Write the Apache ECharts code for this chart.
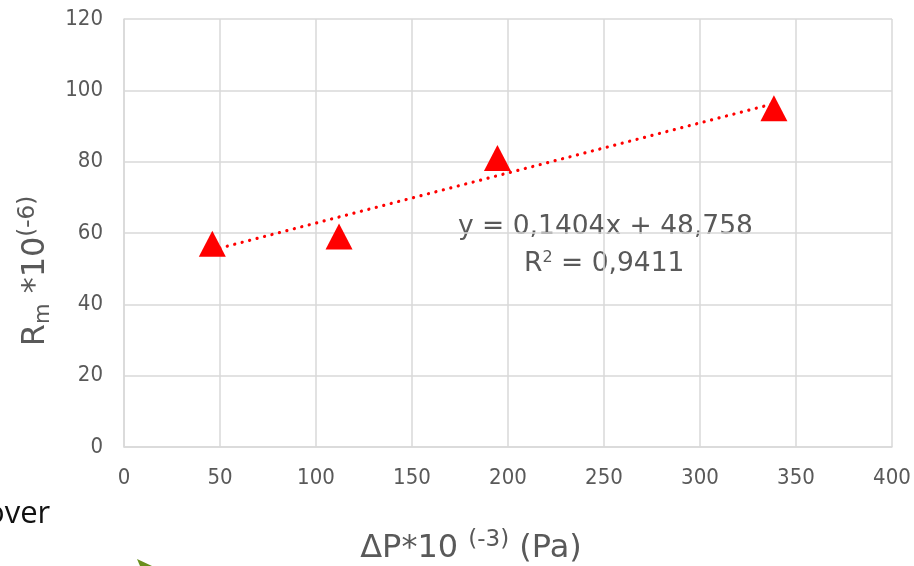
<!DOCTYPE html>
<html>
<head>
<meta charset="utf-8">
<script src="https://cdn.jsdelivr.net/npm/echarts@6/dist/echarts.min.js"></script>
<style>
  html, body { margin: 0; padding: 0; background: #fff; }
  #chart { width: 914px; height: 566px; }
</style>
</head>
<body>
<div id="chart"></div>
<script>
// ── Data ──
const deltaP = [46, 112, 194.5, 338.5];   // ΔP*10^(-3) (Pa)
const rm     = [57, 59, 81, 95];          // Rm*10^(-6)
const xTicks = [0, 50, 100, 150, 200, 250, 300, 350, 400];
const yTicks = [0, 20, 40, 60, 80, 100, 120];

// Trendline as printed on the chart
const SLOPE = 0.1404;
const INTERCEPT = 48.758;
const EQ_TEXT = 'y = 0,1404x + 48,758';
const R2_VALUE = '0,9411';

const TICK_FONT = '"DejaVu Sans Condensed", "DejaVu Sans", sans-serif';
const FONT = '"DejaVu Sans", sans-serif';
const GREY = '#595959';
const GRID = '#d9d9d9';

const xMin = Math.min(...deltaP);
const xMax = Math.max(...deltaP);
const trend = [[xMin, INTERCEPT + SLOPE * xMin], [xMax, INTERCEPT + SLOPE * xMax]];

const chart = echarts.init(document.getElementById('chart'), null, { renderer: 'canvas' });

chart.setOption({
    animation: false,
    grid: { left: 124, right: 22, top: 19, bottom: 119, outerBoundsMode: 'none' },
    xAxis: {
        type: 'value',
        min: xTicks[0],
        max: xTicks[xTicks.length - 1],
        interval: 50,
        axisLine: { show: true, lineStyle: { color: GRID, width: 1.5 } },
        axisTick: { show: false },
        axisLabel: { color: GREY, fontSize: 22, fontFamily: TICK_FONT, margin: 20 },
        splitLine: { show: true, lineStyle: { color: GRID, width: 1.5 } },
        name: '{b|ΔP*10 }{sup|(-3)}{b| (Pa)}',
        nameLocation: 'middle',
        nameGap: 82,
        nameTextStyle: {
            padding: [0, 74, 0, 0],
            rich: {
                b:   { fontSize: 32, color: GREY, fontFamily: FONT },
                sup: { fontSize: 23, color: GREY, fontFamily: FONT, padding: [0, 0, 16, 0] },
            },
        },
    },
    yAxis: {
        type: 'value',
        min: yTicks[0],
        max: yTicks[yTicks.length - 1],
        interval: 20,
        axisLine: { show: true, lineStyle: { color: GRID, width: 1.5 } },
        axisTick: { show: false },
        axisLabel: { color: GREY, fontSize: 22, fontFamily: TICK_FONT, margin: 21 },
        splitLine: { show: true, lineStyle: { color: GRID, width: 1.5 } },
        name: '{b|R}{sub|m}{b| *10}{sup|(-6)}',
        nameLocation: 'middle',
        nameGap: 68,
        nameRotate: 90,
        nameTextStyle: {
            padding: [0, 76, 0, 0],
            rich: {
                b:   { fontSize: 32, color: GREY, fontFamily: FONT },
                sub: { fontSize: 21, color: GREY, fontFamily: FONT, padding: [16, 0, 0, 0] },
                sup: { fontSize: 23, color: GREY, fontFamily: FONT, padding: [0, 0, 16, 0] },
            },
        },
    },
    series: [
        {
            type: 'line',
            data: trend,
            symbol: 'none',
            lineStyle: { color: '#ff0000', width: 3.2, type: [0.1, 7.6], cap: 'round' },
            z: 2,
        },
        {
            type: 'scatter',
            data: deltaP.map((x, i) => [x, rm[i]]),
            symbol: 'triangle',
            symbolSize: [27, 26],
            itemStyle: { color: '#ff0000', opacity: 1 },
            z: 3,
        },
    ],
    graphic: [
        {
            type: 'text', left: 458, top: 214,
            style: { text: EQ_TEXT, font: '26.5px ' + FONT, fill: GREY },
        },
        {
            type: 'text', left: 524, top: 250,
            style: {
                text: '{b|R}{s|2}{b| = ' + R2_VALUE + '}',
                rich: {
                    b: { fontSize: 26.5, fill: GREY, fontFamily: FONT },
                    s: { fontSize: 16, fill: GREY, fontFamily: FONT, padding: [0, 0, 12, 0] },
                },
            },
        },
        {
            type: 'text', left: -14, top: 499,
            style: { text: 'over', font: '31px "Open Sans", sans-serif', fill: '#111' },
        },
        {
            type: 'polygon',
            shape: { points: [[137, 559], [152, 566], [140, 566]] },
            style: { fill: '#6a8f1e' },
        },
    ],
});
</script>
</body>
</html>
